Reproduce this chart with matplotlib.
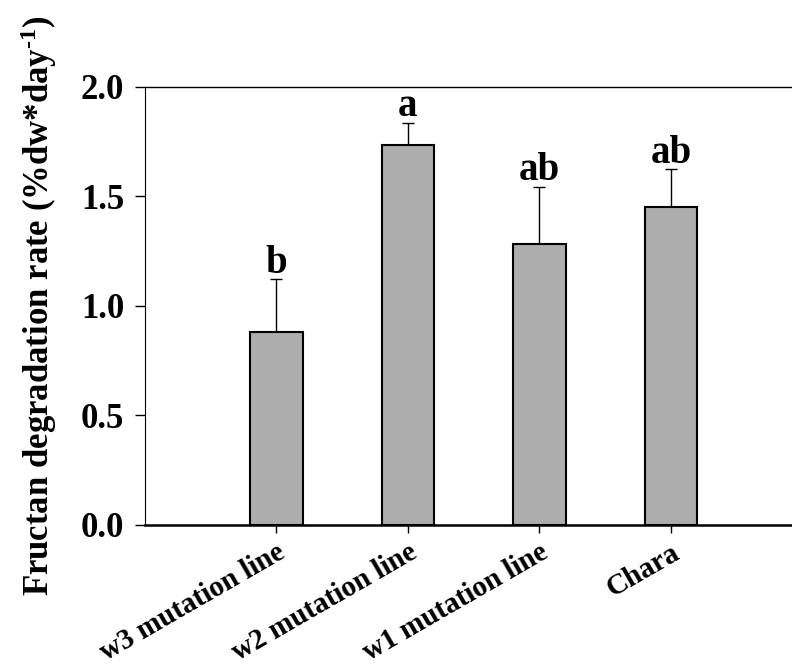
import matplotlib.pyplot as plt
import numpy as np

# degradation rates per line
lines = ['w3 mutation line', 'w2 mutation line', 'w1 mutation line', 'Chara']
rate = [0.88, 1.735, 1.283, 1.452]
err = [0.24, 0.10, 0.26, 0.17]
groups = ['b', 'a', 'ab', 'ab']

plt.rcParams['font.family'] = ['Liberation Serif', 'DejaVu Serif']
plt.rcParams['font.weight'] = 'bold'
plt.rcParams['mathtext.fontset'] = 'custom'
plt.rcParams['mathtext.rm'] = 'Liberation Serif:bold'
plt.rcParams['mathtext.bf'] = 'Liberation Serif:bold'
plt.rcParams['mathtext.default'] = 'bf'

fig = plt.figure(figsize=(7.92, 6.72), dpi=100)
ax = fig.add_axes([0.183, 0.219, 0.817, 0.652])

x = np.arange(1, len(lines) + 1)
ax.bar(x, rate, width=0.4, color='#adadad', edgecolor='black', linewidth=1.5, zorder=2)
ax.errorbar(x, rate, yerr=[np.zeros(len(err)), err], fmt='none', ecolor='black',
            elinewidth=1, capsize=4.5, capthick=1, zorder=1)

# significance letters just above each error bar
for xi, r, e, g in zip(x, rate, err, groups):
    ax.text(xi, r + e + 0.03, g, ha='center', va='baseline', fontsize=28, fontweight='bold')

ax.set_xlim(0, 4.92)
ax.set_ylim(0, 2.0)
ax.set_yticks([0.0, 0.5, 1.0, 1.5, 2.0])
ax.set_yticklabels(['0.0', '0.5', '1.0', '1.5', '2.0'], fontsize=25, fontweight='bold')
ax.set_xticks(x)
ax.set_xticklabels(lines, rotation=30, ha='right', rotation_mode='anchor',
                   fontsize=21, fontweight='bold')
ax.tick_params(axis='y', direction='out', length=7, width=1, pad=8)
ax.tick_params(axis='x', direction='out', length=6, width=1, pad=4)

ax.spines['right'].set_visible(False)
ax.spines['left'].set_linewidth(0.8)
ax.spines['top'].set_linewidth(1.0)
ax.spines['bottom'].set_linewidth(1.8)

ax.set_ylabel('Fructan degradation rate (%dw*day$^{\\text{-1}}$)', fontsize=25,
              fontweight='bold', labelpad=16)

fig.savefig('out.png', dpi=100)
